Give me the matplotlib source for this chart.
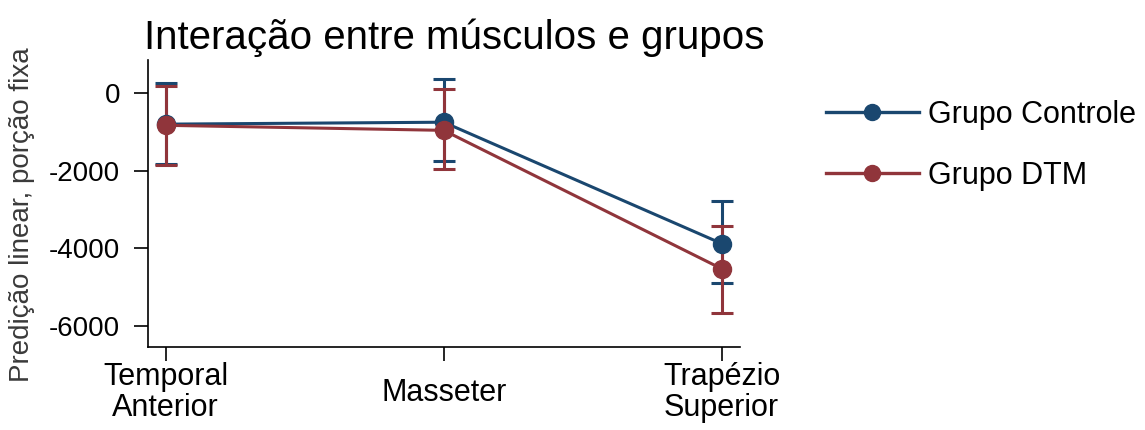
import numpy as np
import matplotlib.pyplot as plt
from matplotlib.lines import Line2D

plt.rcParams['font.family'] = ['Liberation Sans', 'DejaVu Sans']
plt.rcParams['axes.unicode_minus'] = False

musculos = ['Temporal\nAnterior', 'Masseter', 'Trapézio\nSuperior']
grupos = ['Grupo Controle', 'Grupo DTM']
cores = ['#1a476f', '#90353b']

controle = [-800, -750, -3880]
controle_lo = [-1840, -1760, -4910]
controle_hi = [260, 370, -2770]

dtm = [-830, -960, -4530]
dtm_lo = [-1850, -1970, -5660]
dtm_hi = [180, 110, -3420]

medias = [controle, dtm]
lims_lo = [controle_lo, dtm_lo]
lims_hi = [controle_hi, dtm_hi]

fig = plt.figure(figsize=(11.45, 4.3), dpi=100)
ax = fig.add_axes([0.129, 0.193, 0.517, 0.667])

x = np.arange(len(musculos))
handles = []
for m, lo, hi, cor, nome in zip(medias, lims_lo, lims_hi, cores, grupos):
    m = np.array(m)
    yerr = [m - np.array(lo), np.array(hi) - m]
    ax.errorbar(x, m, yerr=yerr, color=cor, lw=2.2, elinewidth=2.2,
                capsize=8, capthick=2.2, marker='o', markersize=13)
    handles.append(Line2D([], [], color=cor, lw=2.4, marker='o',
                          markersize=11.5, label=nome))

ax.set_xlim(-0.065, 2.065)
ax.set_ylim(-6550, 850)
ax.set_yticks([0, -2000, -4000, -6000])
ax.set_xticks(x)
ax.set_xticklabels(musculos, linespacing=1.05)
ax.tick_params(axis='x', labelsize=22, length=10, width=1.2, pad=23)
ax.tick_params(axis='y', labelsize=20, length=10, width=1.2, pad=10)
ax.spines['top'].set_visible(False)
ax.spines['right'].set_visible(False)
for s in ['left', 'bottom']:
    ax.spines[s].set_linewidth(1.2)
for lab in ax.get_xticklabels():
    lab.set_verticalalignment('center')
ax.set_ylabel('Predição linear, porção fixa', fontsize=20, color='#3a3a3a')
ax.yaxis.set_label_coords(-0.19, 0.46)
ax.set_title('Interação entre músculos e grupos', fontsize=29, pad=8, x=0.517)

ax.legend(handles=handles, loc='upper left', bbox_to_anchor=(1.125, 0.905),
          frameon=False, fontsize=22, handlelength=3.05, labelspacing=1.02,
          handletextpad=0.3, borderaxespad=0)

fig.savefig('out.png', dpi=100)
